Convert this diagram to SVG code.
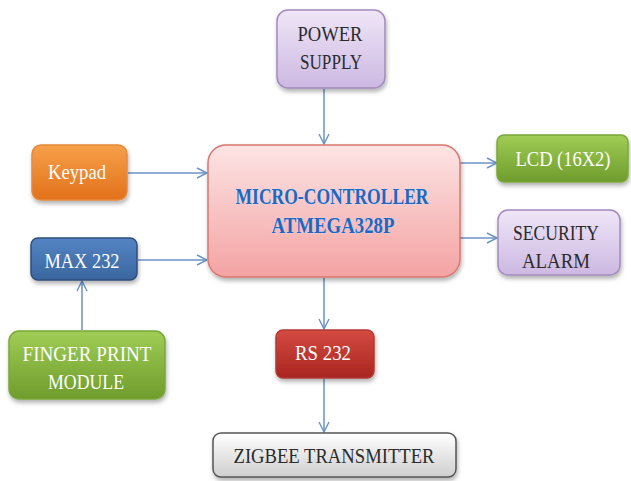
<svg xmlns="http://www.w3.org/2000/svg" width="631" height="481" viewBox="0 0 631 481">
<defs>
<filter id="sh" x="-10%" y="-10%" width="125%" height="135%"><feDropShadow dx="1" dy="3" stdDeviation="2" flood-color="#000" flood-opacity="0.3"/></filter>
<linearGradient id="gPurple" x1="0" y1="0" x2="0" y2="1"><stop offset="0" stop-color="#efe6f7"/><stop offset="1" stop-color="#cdb8e2"/></linearGradient>
<linearGradient id="gOrange" x1="0" y1="0" x2="0" y2="1"><stop offset="0" stop-color="#f7a04a"/><stop offset="1" stop-color="#e2711b"/></linearGradient>
<linearGradient id="gBlue" x1="0" y1="0" x2="0" y2="1"><stop offset="0" stop-color="#5584c4"/><stop offset="1" stop-color="#3a679f"/></linearGradient>
<linearGradient id="gPink" x1="0" y1="0" x2="0" y2="1"><stop offset="0" stop-color="#fde4e4"/><stop offset="1" stop-color="#f4a3a3"/></linearGradient>
<linearGradient id="gGreen" x1="0" y1="0" x2="0" y2="1"><stop offset="0" stop-color="#9fcd55"/><stop offset="1" stop-color="#6f9c2c"/></linearGradient>
<linearGradient id="gRed" x1="0" y1="0" x2="0" y2="1"><stop offset="0" stop-color="#d44a42"/><stop offset="1" stop-color="#a92520"/></linearGradient>
<linearGradient id="gGray" x1="0" y1="0" x2="0" y2="1"><stop offset="0" stop-color="#ffffff"/><stop offset="1" stop-color="#cfcfcf"/></linearGradient>
<marker id="arr" viewBox="0 0 12 12" refX="11" refY="6" markerWidth="12" markerHeight="12" markerUnits="userSpaceOnUse" orient="auto"><path d="M1,1 L11,6 L1,11" fill="none" stroke="#6b93c6" stroke-width="1.4"/></marker>
</defs>
<style>
.box{filter:url(#sh);stroke-width:1.5}
.w{fill:#ffffff}
.d{fill:#2b2b2b}
.mcu{fill:#2167c0;stroke:#d8e6f7;stroke-width:0.6;paint-order:stroke}
.c{stroke:#6b93c6;stroke-width:1.5;fill:none;marker-end:url(#arr)}
</style>
<rect width="631" height="481" fill="#ffffff"/>
<g id="connectors">
<line class="c" x1="324" y1="89" x2="324" y2="144"/>
<line class="c" x1="128" y1="173" x2="207" y2="173"/>
<line class="c" x1="138" y1="260" x2="207" y2="260"/>
<line class="c" x1="82" y1="330" x2="82" y2="281"/>
<line class="c" x1="460" y1="163" x2="497" y2="163"/>
<line class="c" x1="460" y1="238" x2="497" y2="238"/>
<line class="c" x1="324" y1="278" x2="324" y2="329"/>
<line class="c" x1="324" y1="379" x2="324" y2="432"/>
</g>
<g font-family="Liberation Serif" font-size="22" text-anchor="middle">
<g id="power">
<rect class="box" x="277" y="10" width="108" height="78" rx="11" fill="url(#gPurple)" stroke="#a28bbd"/>
<text class="d" x="330" y="41" textLength="65" lengthAdjust="spacingAndGlyphs">POWER</text>
<text class="d" x="331" y="69" textLength="62" lengthAdjust="spacingAndGlyphs">SUPPLY</text>
</g>
<g id="keypad">
<rect class="box" x="32" y="145" width="95" height="55" rx="9" fill="url(#gOrange)" stroke="#e7893a"/>
<text class="w" x="77" y="179" textLength="58" lengthAdjust="spacingAndGlyphs">Keypad</text>
</g>
<g id="max232">
<rect class="box" x="31" y="238" width="106" height="42" rx="7" fill="url(#gBlue)" stroke="#2d4f7e"/>
<text class="w" x="82" y="268" textLength="75" lengthAdjust="spacingAndGlyphs">MAX 232</text>
</g>
<g id="mcu">
<rect class="box" x="208" y="145" width="252" height="132" rx="18" fill="url(#gPink)" stroke="#d9776f"/>
<text class="mcu" font-weight="bold" font-size="24" x="332" y="204" textLength="193" lengthAdjust="spacingAndGlyphs">MICRO-CONTROLLER</text>
<text class="mcu" font-weight="bold" font-size="24" x="333" y="233" textLength="123" lengthAdjust="spacingAndGlyphs">ATMEGA328P</text>
</g>
<g id="lcd">
<rect class="box" x="497" y="135" width="131" height="47" rx="7" fill="url(#gGreen)" stroke="#7aa83a"/>
<text class="w" font-size="20" x="563" y="166" textLength="95" lengthAdjust="spacingAndGlyphs">LCD (16X2)</text>
</g>
<g id="alarm">
<rect class="box" x="498" y="210" width="122" height="65" rx="10" fill="url(#gPurple)" stroke="#a28bbd"/>
<text class="d" x="556" y="240" textLength="86" lengthAdjust="spacingAndGlyphs">SECURITY</text>
<text class="d" x="556" y="268" textLength="68" lengthAdjust="spacingAndGlyphs">ALARM</text>
</g>
<g id="finger">
<rect class="box" x="9" y="331" width="156" height="68" rx="10" fill="url(#gGreen)" stroke="#7aa83a"/>
<text class="w" x="87" y="361" textLength="129" lengthAdjust="spacingAndGlyphs">FINGER PRINT</text>
<text class="w" x="86" y="389" textLength="76" lengthAdjust="spacingAndGlyphs">MODULE</text>
</g>
<g id="rs232">
<rect class="box" x="276" y="330" width="98" height="48" rx="7" fill="url(#gRed)" stroke="#b03a34"/>
<text class="w" x="323" y="360" textLength="56" lengthAdjust="spacingAndGlyphs">RS 232</text>
</g>
<g id="zigbee">
<rect class="box" x="213" y="433" width="243" height="44" rx="8" fill="url(#gGray)" stroke="#555555"/>
<text class="d" x="334" y="463" textLength="201" lengthAdjust="spacingAndGlyphs">ZIGBEE TRANSMITTER</text>
</g>
</g>
</svg>
